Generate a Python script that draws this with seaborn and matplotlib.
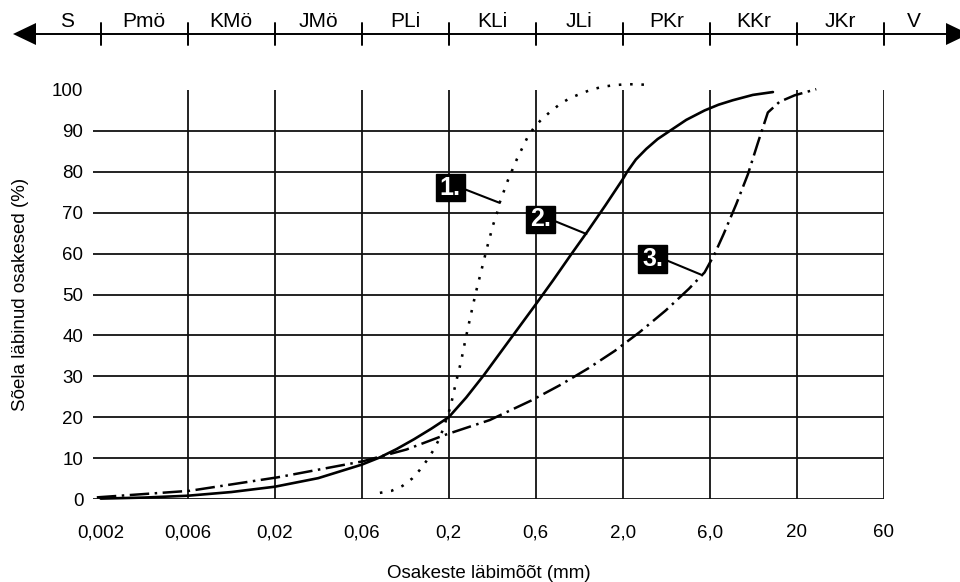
import numpy as np
import pandas as pd
import matplotlib
matplotlib.use("Agg")
import matplotlib.pyplot as plt
import matplotlib.transforms as mtransforms
from matplotlib.lines import Line2D
from matplotlib.patches import Polygon
from matplotlib.path import Path
import seaborn as sns

# Grain size distribution (particle size in mm, percent passing the sieve)
size_1 = [0.0804, 0.0938, 0.1084, 0.1232, 0.1363, 0.1489, 0.1626, 0.176, 0.1856,
          0.2042, 0.2186, 0.2355, 0.2506, 0.2677, 0.2858, 0.3084, 0.332, 0.3596,
          0.379, 0.3926, 0.438, 0.4938, 0.5662, 0.6152, 0.6816, 0.7674, 0.868,
          0.991, 1.146, 1.32, 1.538, 1.797, 2.094, 2.432, 2.858]
pass_1 = [1.5, 2.0, 3.2, 5.0, 7.1, 9.3, 11.8, 14.6, 17.1,
          22.4, 28.0, 33.7, 39.4, 45.0, 50.4, 56.0, 61.5, 67.0,
          70.0, 72.5, 78.0, 83.2, 88.4, 90.7, 92.8, 94.7, 96.5,
          98.0, 99.1, 100.1, 100.8, 101.2, 101.4, 101.4, 101.2]

size_2 = [0.002, 0.003557, 0.006325, 0.01125, 0.02, 0.03557, 0.06325, 0.07962,
          0.1002, 0.1262, 0.1589, 0.2, 0.2518, 0.317, 0.399, 0.5024, 0.6325,
          0.7962, 1.002, 1.262, 1.589, 2.0, 2.119, 2.377, 2.729, 3.17, 3.724,
          4.634, 5.902, 7.096, 8.58, 11.18, 14.58]
pass_2 = [0.1, 0.35, 0.8, 1.7, 3.0, 5.1, 8.4, 10.1,
          12.2, 14.6, 17.2, 20.0, 24.8, 30.2, 36.0, 41.8, 47.6,
          53.5, 59.6, 65.6, 71.8, 78.2, 80.0, 83.0, 85.6, 88.0, 90.0,
          92.7, 95.0, 96.4, 97.5, 98.8, 99.5]

size_3 = [0.0019, 0.00649, 0.02078, 0.0639, 0.1143, 0.1941, 0.344, 0.597, 0.868,
          1.262, 1.797, 2.5, 3.529, 4.797, 5.902, 6.738, 7.596, 8.974, 10.47,
          11.95, 13.63, 15.89, 19.43, 25.86]
pass_3 = [0.4, 2.0, 5.3, 9.2, 12.1, 15.8, 19.3, 24.1, 27.8,
          31.9, 36.2, 40.8, 46.1, 51.4, 55.4, 59.9, 64.8, 72.1, 79.4,
          87.1, 94.5, 97.1, 98.7, 100.2]

x_tick_labels = ["0,002", "0,006", "0,02", "0,06", "0,2", "0,6", "2,0", "6,0", "20", "60"]
y_ticks = list(range(0, 101, 10))
fraction_labels = ["S", "Pmö", "KMö", "JMö", "PLi", "KLi", "JLi", "PKr", "KKr", "JKr", "V"]
curve_labels = ["1.", "2.", "3."]

sns.set_style("white")
plt.rcParams["font.family"] = ["Liberation Sans", "DejaVu Sans"]
FS = 13.5

W, H = 960, 582
fig = plt.figure(figsize=(W / 100, H / 100), dpi=100)
ax = fig.add_axes([93 / W, 83 / H, (884 - 93) / W, (499 - 90) / H])

# size classes are spaced at half-decade steps on a log axis
tick_pos = 0.002 * 10 ** (np.arange(len(x_tick_labels)) / 2)

styles = [
    dict(x=size_1, y=pass_1, lw=1.85, linestyle=(0, (1, 3.4))),
    dict(x=size_2, y=pass_2, lw=1.9, linestyle="-"),
    dict(x=size_3, y=pass_3, lw=1.8, linestyle=(0, (7.8, 2.2, 1, 2.2))),
]
for s in styles:
    sns.lineplot(x=s["x"], y=s["y"], ax=ax, color="black", lw=s["lw"],
                 linestyle=s["linestyle"], estimator=None, sort=False,
                 zorder=3, clip_on=False)

ax.set_xscale("log")
ax.set_xlim(0.002 * 10 ** (-0.0884 / 2), tick_pos[-1] * 1.002)
ax.set_ylim(0, 100)
ax.set_xticks(tick_pos)
ax.set_xticklabels(x_tick_labels)
ax.xaxis.set_minor_locator(matplotlib.ticker.NullLocator())
ax.set_yticks(y_ticks)
ax.set_yticklabels([str(v) for v in y_ticks])

for sp in ax.spines.values():
    sp.set_visible(False)

ax.grid(True, color="#111111", lw=1.3, zorder=1)
ax.set_axisbelow(True)
ax.xaxis.get_gridlines()[0].set_visible(False)
ax.yaxis.get_gridlines()[-1].set_visible(False)

ax.tick_params(axis="x", direction="out", length=8, width=1.3, color="#111111",
               pad=10, labelsize=FS, labelcolor="black")
ax.tick_params(axis="y", length=0, pad=7, labelsize=FS, labelcolor="black")

ax.set_xlabel("Osakeste läbimõõt (mm)", fontsize=FS, color="black")
ax.set_ylabel("Sõela läbinud osakesed (%)", fontsize=FS, color="black")
ax.xaxis.set_label_coords(0.5, -(565 - 499) / 409)
ax.yaxis.set_label_coords(-(93 - 29) / 791, 0.5)


def tag_box(x0, y0, width, height, mutation_size):
    """Black tag rectangle, padded more sideways than vertically."""
    px, py = 0.16 * mutation_size, 0.07 * mutation_size
    x1, y1 = x0 + width + px, y0 + height + py
    x0, y0 = x0 - px, y0 - py
    return Path([(x0, y0), (x1, y0), (x1, y1), (x0, y1), (x0, y0)],
                [Path.MOVETO, Path.LINETO, Path.LINETO, Path.LINETO, Path.CLOSEPOLY])


# numbered curve tags with leader lines
tag_targets = [(0.3926, 72.4), (1.236, 64.8), (5.60, 54.9)]
tag_offsets = [(-35.8, 11.0), (-33.3, 10.5), (-34.5, 11.2)]
for label, xy, off in zip(curve_labels, tag_targets, tag_offsets):
    ax.annotate(label, xy=xy, xytext=off, textcoords="offset points",
                ha="center", va="center", fontsize=18, fontweight="bold", color="white",
                bbox=dict(boxstyle=tag_box, fc="black", ec="black"),
                arrowprops=dict(arrowstyle="-", lw=1.5, color="black",
                                relpos=(1, 0.5), shrinkA=0, shrinkB=0),
                zorder=5)

# fraction scale above the plot
band = mtransforms.blended_transform_factory(ax.transData, fig.transFigure)
fx = lambda px: px / W
fy = lambda py: 1 - py / H
fig.add_artist(Line2D([fx(30), fx(950)], [fy(34), fy(34)], color="black", lw=1.4,
                      transform=fig.transFigure))
fig.add_artist(Polygon([[fx(13), fy(34)], [fx(36), fy(23)], [fx(36), fy(45)]],
                       closed=True, fc="black", ec="none", transform=fig.transFigure))
fig.add_artist(Polygon([[fx(969), fy(34)], [fx(946), fy(23)], [fx(946), fy(45)]],
                       closed=True, fc="black", ec="none", transform=fig.transFigure))
for xp in tick_pos:
    fig.add_artist(Line2D([xp, xp], [fy(23), fy(45)], color="black", lw=1.4,
                          transform=band))
band_k = np.concatenate([[-0.39], np.arange(len(tick_pos) - 1) + 0.5, [9.35]])
for lab, k in zip(fraction_labels, band_k):
    fig.text(0.002 * 10 ** (k / 2), fy(27), lab, transform=band, ha="center",
             va="baseline", fontsize=15, color="black")

fig.savefig("out.png", dpi=100, facecolor="white")
